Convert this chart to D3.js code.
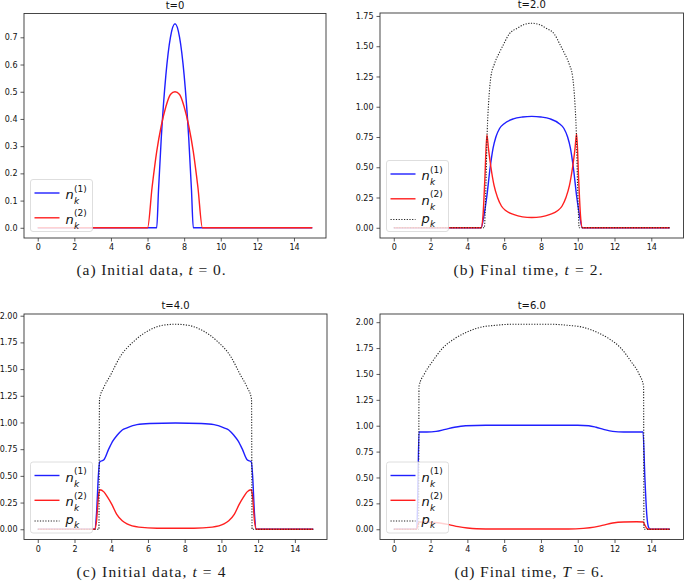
<!DOCTYPE html>
<head>
  <meta charset="utf-8">
  <script src="https://d3js.org/d3.v7.min.js"></script>
  <style>
    body { margin:0; background:#fff; }
    text { font-family: "DejaVu Sans", sans-serif; fill:#111; }
    text.cap { font-family: "Liberation Serif", serif; fill:#1a1a1a; }
  </style>
</head>

<body>
<script>
  var W = 685, H = 584;

  // ---- data ----
  var xTicks = [0, 2, 4, 6, 8, 10, 12, 14];
  var yTicks_t0 = [0, 0.1, 0.2, 0.3, 0.4, 0.5, 0.6, 0.7];
  var yTicks_t2 = [0, 0.25, 0.5, 0.75, 1.0, 1.25, 1.5, 1.75];
  var yTicks_t4 = [0, 0.25, 0.5, 0.75, 1.0, 1.25, 1.5, 1.75, 2.0];
  var titles = ["t=0", "t=2.0", "t=4.0", "t=6.0"];
  var capLabels = ["(a)", "(b)", "(c)", "(d)"];
  var capWords = ["Initial data,", "Final time,", "Initial data,", "Final time,"];
  var capVars = ["t", "t", "t", "T"];
  var capVals = ["0.", "2.", "4", "6."];

  // t = 0
  var n1_t0 = [[0,0],[6.5,0],[6.6,0.14],[6.75,0.33],[7,0.56],[7.25,0.70],[7.5,0.75],[7.75,0.70],
    [8,0.56],[8.25,0.33],[8.4,0.14],[8.5,0],[15,0]];
  var n2_t0 = [[0,0],[6,0],[6.25,0.15],[6.5,0.28],[6.75,0.375],[7,0.445],[7.25,0.49],[7.5,0.5],
    [7.75,0.49],[8,0.445],[8.25,0.375],[8.5,0.28],[8.75,0.15],[9,0],[15,0]];

  // t = 2
  var n1_t2 = [[0,0],[4.75,0],[4.9,0.1],[5.05,0.25],[5.24,0.5],[5.4,0.66],[5.55,0.75],[5.75,0.82],
    [6.0,0.86],[6.5,0.9],[7.0,0.915],[7.5,0.92],[8.0,0.915],[8.5,0.9],[9.0,0.86],[9.25,0.82],
    [9.45,0.75],[9.6,0.66],[9.76,0.5],[9.95,0.25],[10.1,0.1],[10.25,0],[15,0]];
  var n2_t2 = [[0,0],[4.75,0],[4.85,0.1],[4.95,0.4],[5.06,0.77],[5.15,0.65],[5.28,0.5],[5.45,0.35],
    [5.64,0.25],[5.85,0.18],[6.1,0.14],[6.5,0.11],[7.0,0.09],[7.5,0.085],[8.0,0.09],[8.5,0.11],
    [8.9,0.14],[9.15,0.18],[9.36,0.25],[9.55,0.35],[9.72,0.5],[9.85,0.65],[9.94,0.78],[10.05,0.4],
    [10.15,0.1],[10.25,0],[15,0]];
  var p_t2 = [[0,0],[4.92,0],[5.0,0.3],[5.08,0.8],[5.15,1.02],[5.28,1.25],[5.46,1.35],[5.75,1.45],
    [5.95,1.51],[6.27,1.6],[6.73,1.65],[7.1,1.68],[7.5,1.69],[7.9,1.68],[8.27,1.65],[8.73,1.6],
    [9.05,1.51],[9.25,1.45],[9.54,1.35],[9.72,1.25],[9.85,1.02],[9.92,0.8],[10.0,0.3],[10.08,0],[15,0]];

  // t = 4
  var n1_t4 = [[0,0],[3.1,0],[3.2,0.15],[3.3,0.5],[3.37,0.63],[3.6,0.65],[3.86,0.75],[4.1,0.83],
    [4.32,0.88],[4.6,0.93],[4.86,0.95],[5.4,0.98],[6.1,0.99],[7.5,0.995],[8.9,0.99],[9.6,0.98],
    [10.14,0.95],[10.4,0.93],[10.68,0.88],[10.9,0.83],[11.14,0.75],[11.4,0.65],[11.63,0.63],
    [11.7,0.5],[11.8,0.15],[11.9,0],[15,0]];
  var n2_t4 = [[0,0],[3.1,0],[3.2,0.08],[3.3,0.3],[3.37,0.37],[3.6,0.35],[3.8,0.3],[4.04,0.23],
    [4.3,0.14],[4.6,0.08],[4.86,0.05],[5.5,0.02],[6.5,0.01],[7.5,0.01],[8.5,0.01],[9.5,0.02],
    [10.14,0.05],[10.4,0.08],[10.7,0.14],[10.96,0.23],[11.2,0.3],[11.4,0.35],[11.63,0.37],
    [11.7,0.3],[11.8,0.08],[11.9,0],[15,0]];
  var p_t4 = [[0,0],[3.33,0],[3.36,1.22],[3.6,1.33],[3.95,1.44],[4.5,1.62],[5.23,1.76],[6.14,1.87],
    [6.8,1.91],[7.5,1.92],[8.2,1.91],[8.87,1.87],[9.78,1.76],[10.5,1.62],[11.05,1.44],[11.4,1.33],
    [11.64,1.22],[11.67,0],[15,0]];

  // t = 6
  var n1_t6 = [[0,0],[1.25,0],[1.3,0.3],[1.37,0.94],[1.8,0.94],[2.3,0.945],[2.8,0.965],[3.3,0.985],
    [3.9,1.0],[5,1.005],[7.5,1.005],[10,1.005],[10.6,1.0],[11.0,0.985],[11.4,0.965],[11.9,0.945],
    [12.5,0.94],[13.55,0.94],[13.65,0.5],[13.75,0.15],[13.85,0.02],[13.95,0],[15,0]];
  var n2_t6 = [[0,0],[1.25,0],[1.32,0.05],[1.39,0.07],[2,0.068],[2.5,0.06],[3,0.045],[3.5,0.025],
    [4,0.012],[4.5,0.005],[5.5,0.002],[9.5,0.002],[10.3,0.008],[10.9,0.02],[11.4,0.04],[11.9,0.06],
    [12.5,0.07],[13.2,0.072],[13.55,0.07],[13.65,0.04],[13.75,0.01],[13.85,0],[15,0]];
  var p_t6 = [[0,0],[1.35,0],[1.37,1.38],[1.66,1.5],[2.1,1.62],[2.66,1.75],[3.3,1.84],[3.92,1.9],
    [4.7,1.95],[5.55,1.97],[6.5,1.98],[7.5,1.98],[8.5,1.98],[9.45,1.97],[10.3,1.95],[11.08,1.9],
    [11.7,1.84],[12.34,1.75],[12.9,1.62],[13.33,1.5],[13.58,1.38],[13.6,0],[15,0]];

  var BLUE = "#1f1fff", RED = "#ff1f1f";

  var panels = [
    {box:[24,13.5,326,238], ydom:[-0.0375,0.7875], yticks:yTicks_t0, fmt:".1f", i:0, capX:151, capY:275,
     series:[{d:n1_t0,c:BLUE,k:"n1"},{d:n2_t0,c:RED,k:"n2"}]},
    {box:[380,13,683.5,238], ydom:[-0.0845,1.7745], yticks:yTicks_t2, fmt:".2f", i:1, capX:528, capY:275,
     series:[{d:n1_t2,c:BLUE,k:"n1"},{d:n2_t2,c:RED,k:"n2"},{d:p_t2,c:"#222",k:"p",dot:true}]},
    {box:[24,314,327,539.5], ydom:[-0.096,2.016], yticks:yTicks_t4, fmt:".2f", i:2, capX:151, capY:577,
     series:[{d:n1_t4,c:BLUE,k:"n1"},{d:n2_t4,c:RED,k:"n2"},{d:p_t4,c:"#222",k:"p",dot:true}]},
    {box:[380,314,683.5,539.5], ydom:[-0.099,2.079], yticks:yTicks_t4, fmt:".2f", i:3, capX:529, capY:577,
     series:[{d:n1_t6,c:BLUE,k:"n1"},{d:n2_t6,c:RED,k:"n2"},{d:p_t6,c:"#222",k:"p",dot:true}]}
  ];

  var svg = d3.select("body").append("svg")
    .attr("width", W)
    .attr("height", H);

  panels.forEach(drawPanel);

  function drawPanel(P) {
    var x0 = P.box[0], y0 = P.box[1], x1 = P.box[2], y1 = P.box[3];
    var x = d3.scaleLinear().domain([-0.75, 15.75]).range([x0, x1]);
    var y = d3.scaleLinear().domain(P.ydom).range([y1, y0]);
    var g = svg.append("g");

    var line = d3.line()
      .x(function(d) { return x(d[0]); })
      .y(function(d) { return y(d[1]); })
      .curve(d3.curveMonotoneX);

    P.series.forEach(function(s) {
      g.append("path")
        .attr("d", line(s.d))
        .attr("fill", "none")
        .attr("stroke", s.c)
        .attr("stroke-width", s.dot ? 1.1 : 1.4)
        .attr("stroke-dasharray", s.dot ? "1.2,1.5" : null);
    });

    // axes
    var ax = g.append("g")
      .attr("transform", "translate(0," + y1 + ")")
      .call(d3.axisBottom(x).tickValues(xTicks).tickSize(3.5).tickPadding(3));
    var ay = g.append("g")
      .attr("transform", "translate(" + x0 + ",0)")
      .call(d3.axisLeft(y).tickValues(P.yticks).tickFormat(d3.format(P.fmt)).tickSize(3.5).tickPadding(3));
    [ax, ay].forEach(function(a) {
      a.select(".domain").remove();
      a.selectAll("text").style("font-size", "8px").style("font-family", "DejaVu Sans");
      a.selectAll("line").attr("stroke", "#333").attr("stroke-width", 0.8);
    });
    g.append("rect")
      .attr("x", x0).attr("y", y0)
      .attr("width", x1 - x0).attr("height", y1 - y0)
      .attr("fill", "none").attr("stroke", "#333").attr("stroke-width", 0.9);

    // title
    g.append("text")
      .attr("x", (x0 + x1) / 2).attr("y", y0 - 5)
      .attr("text-anchor", "middle")
      .style("font-size", "10px")
      .text(titles[P.i]);

    // legend
    var nEnt = P.series.length;
    var lh = nEnt === 2 ? 52 : 71;
    var lx = x0 + 6.5, ly = y1 - 6.5 - lh;
    var rows = [13.5, 38.3, 59];
    g.append("rect")
      .attr("x", lx).attr("y", ly).attr("width", 62).attr("height", lh)
      .attr("rx", 2.5)
      .attr("fill", "#fff").attr("fill-opacity", 0.8)
      .attr("stroke", "#d6d6d6").attr("stroke-width", 0.8);
    P.series.forEach(function(s, j) {
      var yy = ly + rows[j];
      g.append("line")
        .attr("x1", lx + 4).attr("x2", lx + 29)
        .attr("y1", yy).attr("y2", yy)
        .attr("stroke", s.c)
        .attr("stroke-width", s.dot ? 1.1 : 1.4)
        .attr("stroke-dasharray", s.dot ? "1.2,1.5" : null);
      mathLabel(g, s.k, lx + 35, yy);
    });

    // caption
    var cap = svg.append("text")
      .attr("class", "cap")
      .attr("x", P.capX).attr("y", P.capY)
      .attr("text-anchor", "middle")
      .attr("textLength", 149).attr("lengthAdjust", "spacing")
      .style("font-size", "15.5px");
    cap.append("tspan").text(capLabels[P.i] + " " + capWords[P.i] + " ");
    cap.append("tspan").style("font-style", "italic").text(capVars[P.i]);
    cap.append("tspan").text(" = " + capVals[P.i]);
  }

  function mathLabel(g, k, x, y) {
    var base = k === "p" ? "p" : "n";
    var t = g.append("text")
      .attr("x", x).attr("y", k === "p" ? y + 3 : y + 6)
      .style("font-size", "13px").style("font-style", "italic")
      .text(base);
    var w = t.node().getComputedTextLength();
    g.append("text")
      .attr("x", x + w + 0.3).attr("y", k === "p" ? y + 7 : y + 11)
      .style("font-size", "9px").style("font-style", "italic")
      .text("k");
    if (k !== "p") {
      g.append("text")
        .attr("x", x + w + 0.3).attr("y", y - 1.5)
        .style("font-size", "9px")
        .text(k === "n1" ? "(1)" : "(2)");
    }
  }
</script>
</body>
